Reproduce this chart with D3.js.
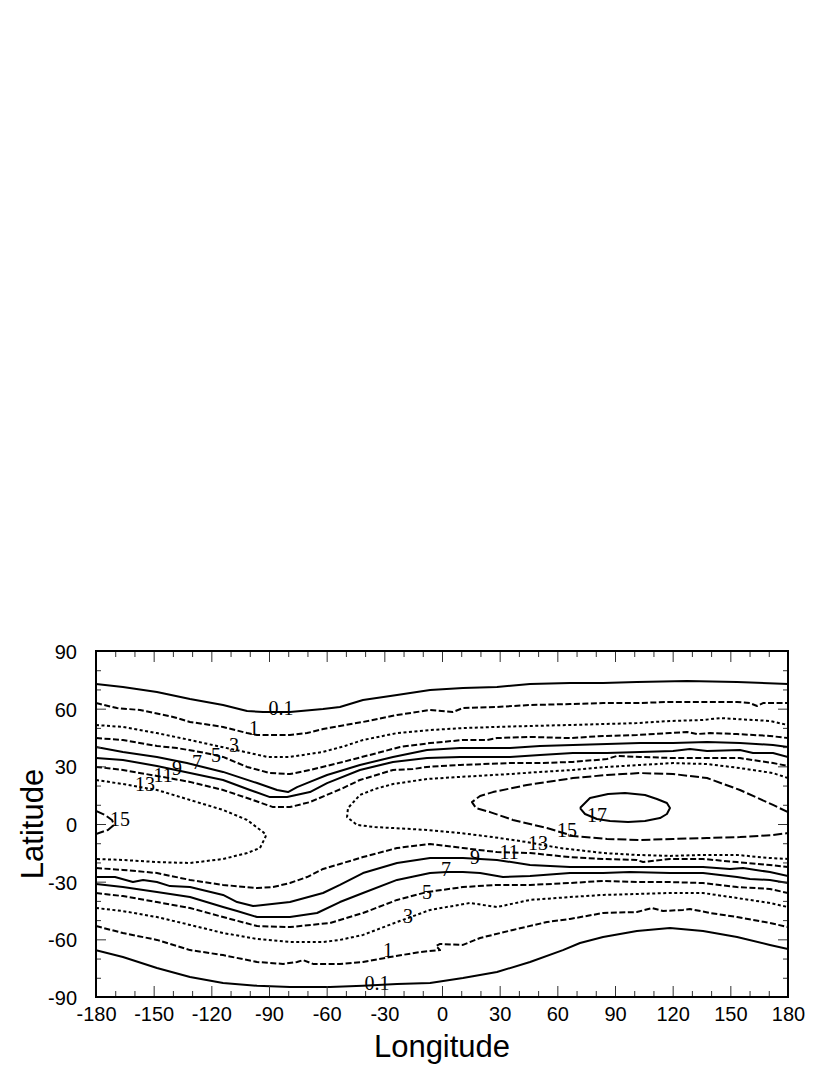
<!DOCTYPE html>
<html>
<head>
<meta charset="utf-8">
<script src="https://cdn.jsdelivr.net/npm/d3@7"></script>
<style>
  body { margin: 0; background: #fff; }
  svg { display: block; }
</style>
</head>
<body>
<svg id="chart"></svg>
<script>
// contour lines, [longitude, latitude]
const c01North = [[-180,72.8],[-166,71.3],[-148.3,68.7],[-131.1,65],[-113.9,61.9],[-101.4,58.8],[-93.1,58.3],[-79.1,58.3],[-61.9,59.8],[-53.1,60.9],[-41.1,64.5],[-23.4,67.1],[-6.2,69.7],[10.9,70.8],[28.6,71.3],[45.8,72.8],[66.6,73.4],[83.8,73.4],[101.4,73.9],[127.5,74.4],[153.5,73.9],[180,72.8]]
const c1North = [[-180,62.9],[-169.1,60.3],[-157.1,59.3],[-139.9,55.7],[-131.1,53.1],[-113.9,50.5],[-101.4,47.3],[-96.2,46.3],[-79.1,46.3],[-70.2,47.3],[-61.9,49.4],[-53.1,51],[-41.1,53.1],[-23.4,56.7],[-6.2,59.3],[5.7,58.3],[10.9,60.3],[28.6,60.9],[45.8,61.9],[66.6,62.4],[83.8,62.9],[101.4,62.9],[118.6,63.5],[135.8,63.5],[153.5,63.5],[160.2,62.9],[163.9,61.4],[167,62.9],[180,62.9]]
const c3North = [[-180,51.5],[-166,50.5],[-148.3,47.3],[-131.1,43.7],[-117.1,40.6],[-99.9,36.9],[-91,34.9],[-79.1,34.9],[-61.9,37.5],[-50.5,40.6],[-41.1,43.7],[-23.4,47.3],[-6.2,48.9],[10.9,49.9],[28.6,50.5],[45.8,51],[66.6,51.5],[83.8,52],[101.4,52.5],[118.6,53.6],[135.8,54.1],[144.6,55.1],[153.5,54.6],[170.6,53.6],[180,51.5]]
const c5North = [[-180,44.7],[-166,43.7],[-148.3,40.6],[-137.9,39.5],[-125.9,37.5],[-113.9,34.9],[-101.4,29.7],[-89.5,26.5],[-79.1,26],[-68.7,28.1],[-51.5,32.3],[-33.8,36.9],[-21.8,40.1],[-6.2,42.1],[10.9,43.7],[23.4,43.7],[28.6,44.7],[45.8,45.3],[66.6,44.7],[83.8,45.8],[101.4,46.3],[118.6,47.3],[127.5,47.9],[132.7,46.8],[139.4,47.3],[153.5,46.8],[170.6,45.8],[180,44.7]]
const c7North = [[-180,40.1],[-166,37.5],[-148.3,34.9],[-132.7,31.7],[-113.9,27.1],[-96.2,21.3],[-85.8,17.7],[-80.1,16.6],[-75.4,19.2],[-68.7,21.9],[-59.8,25.5],[-42.7,30.7],[-25.5,34.9],[-7.8,38.5],[9.4,39.5],[35.4,39.5],[51,40.6],[68.1,41.1],[85.8,41.6],[103,42.1],[120.2,42.1],[137.9,42.7],[155,42.1],[172.2,41.1],[180,40.1]]
const c9North = [[-180,34.3],[-166,33.3],[-148.3,30.2],[-131.1,26.5],[-113.9,22.9],[-99.9,17.7],[-89.5,14],[-80.6,14],[-68.7,16.6],[-59.8,21.3],[-42.7,28.1],[-25.5,32.3],[-7.8,34.3],[9.4,34.9],[35.4,34.9],[51,35.9],[68.1,36.9],[85.8,36.9],[103,37.5],[120.2,38],[129,39],[137.9,38],[155,38.5],[161.8,36.9],[172.2,36.9],[180,34.9]]
const c11North = [[-180,29.7],[-166,28.1],[-148.3,25],[-131.1,21.9],[-113.9,17.7],[-99.9,13],[-87.9,8.8],[-79.1,8.8],[-68.7,11.4],[-51.5,18.7],[-42.7,22.9],[-25.5,28.1],[-15.1,28.6],[-7.8,29.7],[9.4,30.7],[35.4,31.7],[51,31.7],[68.1,32.3],[85.8,33.8],[91,35.4],[103,34.9],[120.2,34.3],[137.9,34.3],[155,34.3],[172.2,31.7],[180,30.2]]
const c13West = [[-180,22.9],[-166,20.8],[-148.3,17.7],[-131.1,12.5],[-113.9,7.3],[-101.4,2.1],[-93.1,-4.2],[-91.5,-5.7],[-92.1,-7.3],[-94.7,-12.5],[-101.4,-15.1],[-113.9,-18.2],[-131.1,-20.3],[-148.3,-19.8],[-166,-18.7],[-180,-18.2]]
const c13East = [[180,23.9],[172.2,26.5],[155,29.1],[137.9,31.2],[120.2,31.7],[103,30.7],[85.8,29.7],[68.1,28.1],[51,27.1],[35.4,26],[9.4,24.5],[-7.8,23.4],[-25.5,20.8],[-34.9,18.2],[-42.7,15.1],[-48.9,8.3],[-49.4,3.6],[-44.2,-0.5],[-34.9,-1.6],[-25.5,-2.1],[-7.8,-3.1],[9.4,-4.7],[26.5,-6.8],[44.2,-9.4],[61.4,-12.5],[83.8,-15.1],[101.4,-16.1],[118.6,-16.6],[135.8,-16.1],[153.5,-16.1],[170.6,-17.7],[180,-18.2]]
const c15West = [[-180,6.8],[-175.3,4.7],[-171.7,2.1],[-170.6,-0.5],[-173.8,-3.1],[-180,-5.2]]
const c15East = [[180,6.2],[172.2,9.9],[155,17.7],[137.9,23.9],[120.2,26],[103,26.5],[85.8,25.5],[68.1,23.9],[51,21.3],[44.2,20.3],[26.5,16.6],[19.8,14.6],[15.6,11.4],[17.7,8.3],[25,6.2],[36.9,2.1],[54.6,-2.1],[68.1,-6.2],[85.8,-7.8],[103,-8.3],[120.2,-7.8],[137.9,-7.3],[155,-6.8],[172.2,-5.7],[180,-4.7]]
const c17 = [[71.8,8.3],[77,13.5],[86.4,15.6],[95.2,16.1],[105.6,15.1],[111.8,13],[117,10.9],[118.6,8.3],[117,5.2],[113.4,3.1],[105.6,1.6],[96.8,1],[87.4,1.6],[80.6,2.6],[74.4,5.2],[71.8,8.3]]
const c11South = [[-180,-22.9],[-166,-23.9],[-148.3,-25.5],[-131.1,-29.1],[-113.9,-31.7],[-96.2,-33.3],[-87.9,-32.8],[-79.1,-30.7],[-70.2,-27.6],[-61.9,-23.4],[-53.1,-20.8],[-41.1,-17.2],[-23.4,-12.5],[-6.2,-10.4],[10.9,-12.5],[28.6,-14.6],[45.8,-15.1],[66.6,-17.2],[83.8,-18.2],[101.4,-18.7],[104.6,-19.8],[118.6,-18.2],[135.8,-18.2],[153.5,-19.8],[170.6,-21.3],[180,-22.4]]
const c9South = [[-180,-27.6],[-170.1,-27.6],[-160.8,-30.2],[-155.5,-29.1],[-148.3,-30.2],[-141.5,-32.3],[-131.1,-32.8],[-113.9,-36.9],[-106.6,-40.6],[-98.3,-42.7],[-93.1,-42.1],[-79.1,-40.6],[-61.9,-35.9],[-53.1,-31.7],[-41.1,-25.5],[-23.4,-20.3],[-6.2,-17.7],[10.9,-17.7],[28.6,-18.7],[45.8,-21.3],[66.6,-22.4],[83.8,-22.4],[101.4,-22.4],[118.6,-22.4],[135.8,-22.4],[149.8,-23.4],[156.6,-22.9],[170.6,-25],[180,-27.1]]
const c7South = [[-180,-31.2],[-166,-32.8],[-148.3,-35.4],[-131.1,-38],[-113.9,-43.2],[-106.6,-45.3],[-96.2,-48.4],[-89.5,-48.4],[-79.1,-48.4],[-65,-46.3],[-53.1,-40.6],[-41.1,-35.9],[-23.4,-29.1],[-6.2,-25.5],[2.6,-25],[10.9,-25],[19.8,-25.5],[31.7,-27.6],[45.8,-27.1],[66.6,-25.5],[83.8,-25.5],[97.8,-25],[118.6,-25.5],[135.8,-25.5],[153.5,-27.6],[160.2,-28.6],[170.6,-29.1],[180,-30.7]]
const c5South = [[-180,-35.9],[-166,-37.5],[-148.3,-40.6],[-131.1,-43.7],[-113.9,-48.4],[-96.2,-53.1],[-79.1,-53.6],[-58.3,-51.5],[-41.1,-46.3],[-23.4,-39.5],[-7.8,-35.4],[10.9,-32.8],[28.6,-31.7],[45.8,-31.7],[66.6,-30.7],[83.8,-29.6],[101.4,-30.2],[118.6,-30.2],[135.8,-30.7],[153.5,-32.8],[170.6,-33.8],[180,-35.9]]
const c3South = [[-180,-43.7],[-166,-45.3],[-148.3,-48.4],[-131.1,-52.5],[-113.9,-56.7],[-96.2,-59.8],[-79.1,-61.4],[-61.9,-61.4],[-53.1,-60.3],[-41.1,-57.7],[-23.4,-51],[-6.2,-44.7],[14.6,-41.1],[28.6,-43.2],[45.8,-39.5],[66.6,-38],[83.8,-36.9],[101.4,-36.4],[118.6,-35.9],[135.8,-35.9],[153.5,-38.5],[170.6,-41.1],[180,-43.2]]
const c1South = [[-180,-53.1],[-166,-56.7],[-148.3,-60.3],[-131.1,-65.6],[-113.9,-68.2],[-96.2,-71.8],[-82.7,-72.8],[-75.4,-71.8],[-72.3,-70.8],[-67.1,-72.8],[-53.1,-72.8],[-41.1,-71.8],[-27.1,-69.2],[-11.4,-66.6],[-1,-65.6],[-3.1,-63.5],[-1,-62.4],[10.9,-62.9],[19.8,-59.3],[36.9,-55.1],[54.6,-51],[66.6,-49.4],[83.8,-46.3],[101.4,-45.8],[109.2,-43.7],[115,-45.3],[125.4,-44.7],[129,-44.2],[139.4,-46.3],[153.5,-48.4],[170.6,-51.5],[180,-53.6]]
const c01South = [[-180,-65.6],[-166,-69.2],[-148.3,-74.9],[-131.1,-79.6],[-113.9,-82.7],[-96.2,-84.2],[-79.1,-84.8],[-58.3,-84.8],[-41.1,-84.2],[-23.4,-83.2],[-6.2,-82.7],[10.9,-80.1],[28.6,-77],[45.8,-71.8],[62.9,-65.6],[71.8,-61.9],[83.8,-58.8],[101.4,-55.7],[118.6,-54.1],[135.8,-55.7],[153.5,-58.8],[170.6,-62.9],[180,-65]]

// level labels, [text, longitude, latitude]
const levelLabels = [
  ["0.1",-83.8,60.3],["1",-97.8,49.9],["3",-108.2,41.1],["5",-117.6,35.9],["7",-127.5,32.3],
  ["9",-137.9,29.1],["11",-145.1,25.5],["13",-154.5,20.8],["15",-167.5,2.6],["17",80.6,4.7],
  ["15",65,-3.1],["13",49.9,-9.9],["11",34.9,-14.6],["9",17.2,-17.2],["7",2.1,-23.4],
  ["5",-7.8,-35.4],["3",-17.7,-47.9],["1",-28.1,-65.6],["0.1",-33.8,-82.7]
]

const lonTicks = [-180,-150,-120,-90,-60,-30,0,30,60,90,120,150,180]
const latTicks = [-90,-60,-30,0,30,60,90]

const lines = [
  {level:"0.1", pts:c01North}, {level:"0.1", pts:c01South},
  {level:"1", pts:c1North}, {level:"1", pts:c1South},
  {level:"3", pts:c3North}, {level:"3", pts:c3South},
  {level:"5", pts:c5North}, {level:"5", pts:c5South},
  {level:"7", pts:c7North}, {level:"7", pts:c7South},
  {level:"9", pts:c9North}, {level:"9", pts:c9South},
  {level:"11", pts:c11North}, {level:"11", pts:c11South},
  {level:"13", pts:c13West}, {level:"13", pts:c13East},
  {level:"15", pts:c15West}, {level:"15", pts:c15East},
  {level:"17", pts:c17}
]

// dash style for each level
const dashes = {"0.1":null, "1":"6,2.5", "3":"3,2.5", "5":"6,2.5", "7":null, "9":null,
                "11":"6,2.5", "13":"3,2.5", "15":"9,3", "17":null}

const W = 830, H = 1075
const plotL = 96, plotR = 788, plotT = 651, plotB = 997
const axisFont = '"Liberation Sans", Arial, Helvetica, sans-serif'

const svg = d3.select("#chart").attr("width", W).attr("height", H)

const x = d3.scaleLinear().domain([-180, 180]).range([plotL, plotR])
const y = d3.scaleLinear().domain([-90, 90]).range([plotB, plotT])

svg.append("defs").append("clipPath").attr("id", "plot")
  .append("rect")
  .attr("x", plotL).attr("y", plotT)
  .attr("width", plotR - plotL).attr("height", plotB - plotT)

// contours
const line = d3.line().x(d => x(d[0])).y(d => y(d[1]))

svg.append("g")
  .attr("clip-path", "url(#plot)")
  .selectAll("path")
  .data(lines)
  .join("path")
  .attr("d", d => line(d.pts))
  .attr("fill", "none")
  .attr("stroke", "#000")
  .attr("stroke-width", 2)
  .attr("stroke-linejoin", "round")
  .attr("stroke-dasharray", d => dashes[d.level])

// labels on the lines
svg.append("g")
  .selectAll("text")
  .data(levelLabels)
  .join("text")
  .attr("x", d => x(d[1]))
  .attr("y", d => y(d[2]))
  .attr("dy", "0.35em")
  .attr("text-anchor", "middle")
  .attr("fill", "#000")
  .style("font-family", '"Liberation Serif", "Times New Roman", serif')
  .style("font-size", "20px")
  .text(d => d[0])

// ticks (inward), major 30 deg, minor 10 deg
const minorLon = d3.range(-170, 180, 10).filter(v => v % 30 !== 0)
const minorLat = d3.range(-80, 90, 10).filter(v => v % 30 !== 0)

function ticks(axis, values, size, translate, labels){
  const g = svg.append("g")
    .attr("transform", translate)
    .call(axis.tickValues(values).tickSize(size).tickPadding(labels ? labels : 3)
      .tickFormat(labels ? d => d : ""))
  g.select(".domain").remove()
  g.selectAll("line").attr("stroke", "#333").attr("stroke-width", 1)
  return g
}

const xb = ticks(d3.axisBottom(x), lonTicks, -11, `translate(0,${plotB})`, 10)
ticks(d3.axisBottom(x), minorLon, -6, `translate(0,${plotB})`)
ticks(d3.axisTop(x), lonTicks, -11, `translate(0,${plotT})`)
ticks(d3.axisTop(x), minorLon, -6, `translate(0,${plotT})`)
const yl = ticks(d3.axisLeft(y), latTicks, -10, `translate(${plotL},0)`, 19)
ticks(d3.axisLeft(y), minorLat, -5, `translate(${plotL},0)`)
ticks(d3.axisRight(y), latTicks, -10, `translate(${plotR},0)`)
ticks(d3.axisRight(y), minorLat, -5, `translate(${plotR},0)`)

xb.selectAll("text")
  .style("font-family", axisFont).style("font-size", "20px").attr("fill", "#000")
yl.selectAll("text")
  .style("font-family", axisFont).style("font-size", "20px").attr("fill", "#000")
  .attr("dy", "0.38em")

// frame
svg.append("rect")
  .attr("x", plotL).attr("y", plotT)
  .attr("width", plotR - plotL).attr("height", plotB - plotT)
  .attr("fill", "none")
  .attr("stroke", "#000")
  .attr("stroke-width", 2)

// axis titles
svg.append("text")
  .attr("x", (plotL + plotR) / 2)
  .attr("y", 1057)
  .attr("text-anchor", "middle")
  .style("font-family", axisFont)
  .style("font-size", "31px")
  .text("Longitude")

svg.append("text")
  .attr("transform", `translate(43,${(plotT + plotB) / 2}) rotate(-90)`)
  .attr("text-anchor", "middle")
  .style("font-family", axisFont)
  .style("font-size", "31px")
  .text("Latitude")
</script>
</body>
</html>
